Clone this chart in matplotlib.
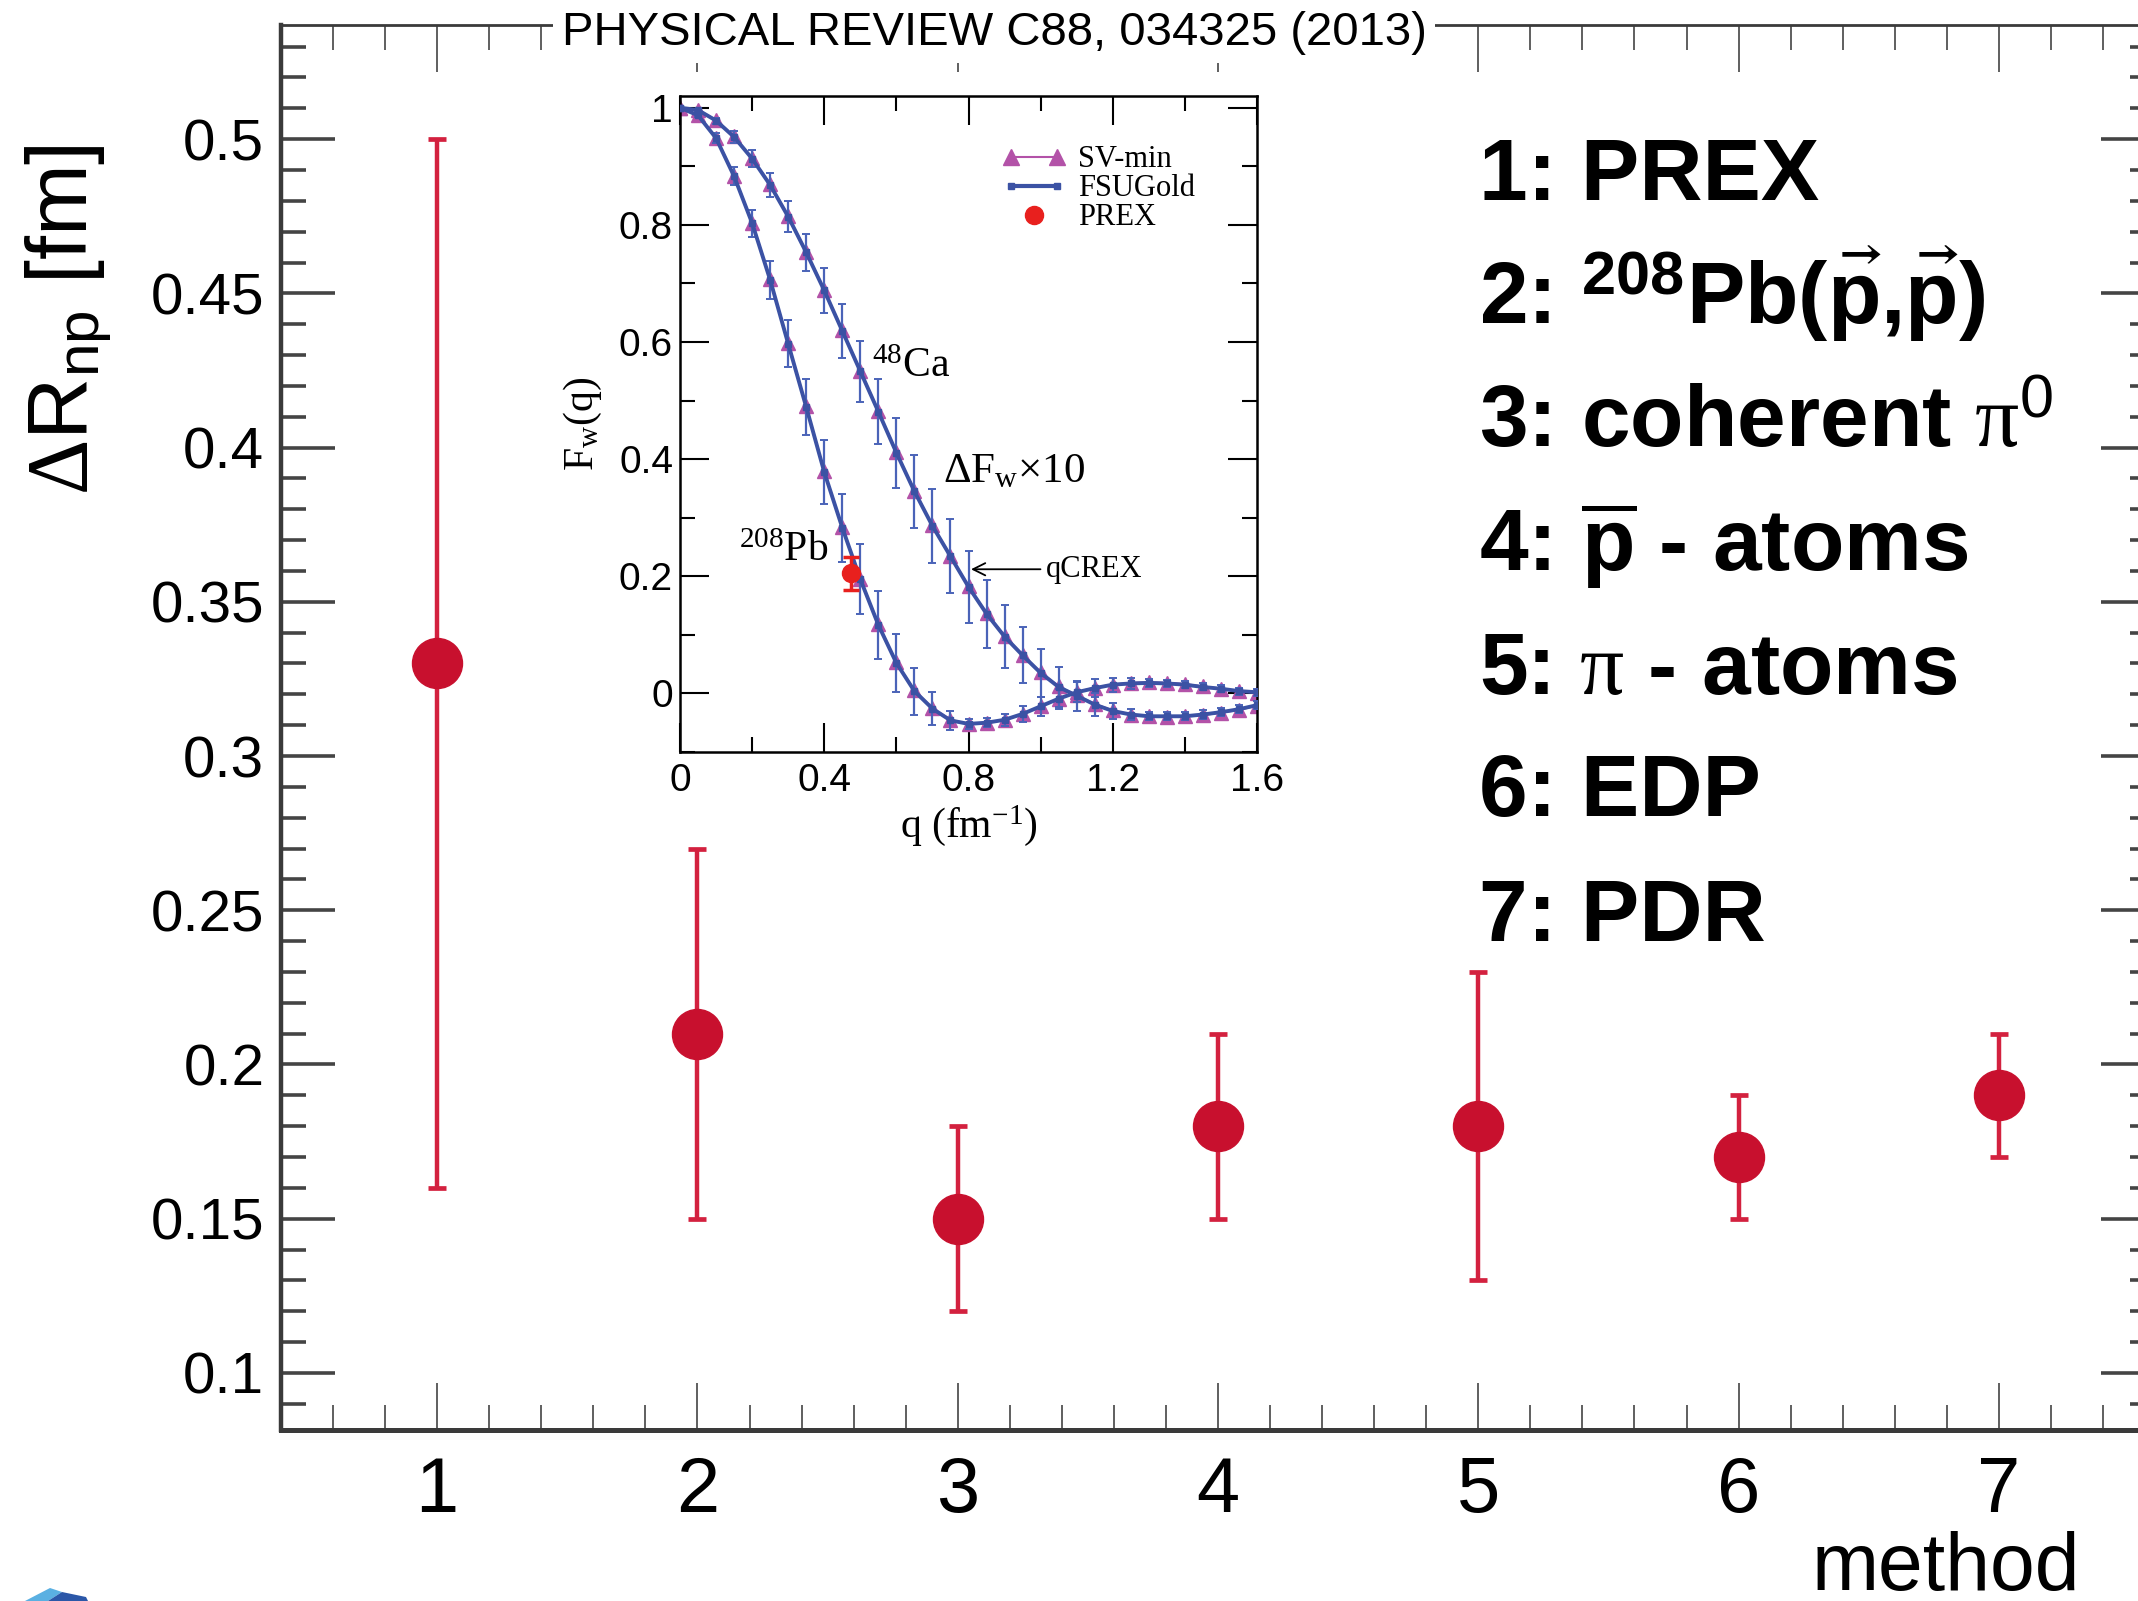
import numpy as np
import matplotlib
matplotlib.use("Agg")
import matplotlib.pyplot as plt
from matplotlib.ticker import MultipleLocator, FuncFormatter
from matplotlib.lines import Line2D
from matplotlib.legend_handler import HandlerLine2D
from matplotlib.patches import Polygon

plt.rcParams.update({
    'font.family': 'Liberation Sans',
    'mathtext.fontset': 'custom',
    'mathtext.rm': 'Liberation Serif',
    'mathtext.it': 'Liberation Serif:italic',
    'mathtext.bf': 'Liberation Sans:bold',
    'mathtext.sf': 'Liberation Sans',
    'mathtext.fallback': 'stix',
})

# neutron skin of 208Pb by method
methods = [1, 2, 3, 4, 5, 6, 7]
drnp = [0.33, 0.21, 0.15, 0.18, 0.18, 0.17, 0.19]
drnp_err = [0.17, 0.06, 0.03, 0.03, 0.05, 0.02, 0.02]
method_names = [
    "1: PREX",
    r"2: $^{\mathbf{208}}$Pb($\vec{\mathbf{p}}$,$\vec{\mathbf{p}}$)",
    r"3: coherent $\mathrm{\pi}^{\mathsf{0}}$",
    r"4: $\overline{\mathbf{p}}$ - atoms",
    r"5: $\mathrm{\pi}$ - atoms",
    "6: EDP",
    "7: PDR",
]

# weak form factors (inset)
q = [0.0, 0.05, 0.1, 0.15, 0.2, 0.25, 0.3, 0.35, 0.4, 0.45, 0.5,
     0.55, 0.6, 0.65, 0.7, 0.75, 0.8, 0.85, 0.9, 0.95, 1.0, 1.05,
     1.1, 1.15, 1.2, 1.25, 1.3, 1.35, 1.4, 1.45, 1.5, 1.55, 1.6]
ca48_fsu = [1.0, 0.996, 0.978, 0.950, 0.913, 0.868, 0.814, 0.753, 0.688, 0.619, 0.550,
            0.481, 0.411, 0.345, 0.286, 0.234, 0.182, 0.136, 0.097, 0.065, 0.035, 0.011,
            -0.004, -0.019, -0.030, -0.036, -0.039, -0.039, -0.039, -0.036, -0.032, -0.027, -0.020]
ca48_sv = [1.0, 0.996, 0.979, 0.951, 0.914, 0.869, 0.815, 0.754, 0.689, 0.620, 0.551,
           0.482, 0.412, 0.346, 0.287, 0.235, 0.183, 0.137, 0.098, 0.066, 0.036, 0.012,
           -0.003, -0.018, -0.029, -0.036, -0.039, -0.040, -0.039, -0.037, -0.033, -0.028, -0.021]
ca48_err = [0.0, 0.002, 0.005, 0.010, 0.015, 0.020, 0.026, 0.032, 0.039, 0.046, 0.052,
            0.056, 0.060, 0.062, 0.063, 0.063, 0.061, 0.058, 0.054, 0.048, 0.041, 0.034,
            0.026, 0.019, 0.013, 0.009, 0.007, 0.007, 0.007, 0.007, 0.007, 0.007, 0.007]
pb208_fsu = [1.0, 0.987, 0.948, 0.883, 0.803, 0.706, 0.597, 0.489, 0.378, 0.283, 0.195,
             0.117, 0.052, 0.004, -0.026, -0.046, -0.052, -0.050, -0.045, -0.035, -0.022, -0.009,
             0.002, 0.009, 0.015, 0.017, 0.018, 0.017, 0.015, 0.011, 0.008, 0.004, 0.002]
pb208_sv = [1.0, 0.987, 0.949, 0.884, 0.804, 0.707, 0.598, 0.490, 0.379, 0.284, 0.196,
            0.118, 0.053, 0.005, -0.025, -0.045, -0.052, -0.051, -0.045, -0.035, -0.022, -0.009,
            0.002, 0.010, 0.015, 0.018, 0.019, 0.018, 0.016, 0.012, 0.008, 0.004, 0.001]
pb208_err = [0.0, 0.003, 0.008, 0.015, 0.023, 0.032, 0.040, 0.048, 0.055, 0.058, 0.060,
             0.058, 0.050, 0.040, 0.028, 0.016, 0.008, 0.008, 0.010, 0.013, 0.016, 0.017,
             0.017, 0.015, 0.012, 0.009, 0.007, 0.006, 0.006, 0.006, 0.006, 0.006, 0.006]
prex_q = [0.475]
prex_fw = [0.205]
prex_err = [0.028]

W, H, DPI = 2138, 1601, 100


def fx(px):
    return px / W


def fy(py):
    return 1 - py / H


fmt_g = FuncFormatter(lambda v, p: '%g' % round(v, 4))

fig = plt.figure(figsize=(W / DPI, H / DPI), dpi=DPI)

# ---- main panel ----
ax = fig.add_axes([fx(281), fy(1430), (2155 - 281) / W, (1430 - 25) / H])
ax.set_xlim(0.4, 7.6)
ax.set_ylim(0.0815, 0.537)
ax.errorbar(methods, drnp, yerr=drnp_err, fmt='o', ms=36, color='#c8102e',
            ecolor='#d3213f', elinewidth=3.2, capsize=6.5, capthick=3.4, zorder=3)

ax.xaxis.set_major_locator(MultipleLocator(1))
ax.xaxis.set_minor_locator(MultipleLocator(0.2))
ax.yaxis.set_major_locator(MultipleLocator(0.05))
ax.yaxis.set_minor_locator(MultipleLocator(0.01))
ax.yaxis.set_major_formatter(fmt_g)
ax.tick_params(which='both', direction='in', top=True, right=True, colors='#444444')
ax.tick_params(axis='x', which='major', length=34, width=1.2, labelsize=56, pad=18,
               labelcolor='black')
ax.tick_params(axis='x', which='minor', length=18, width=1.2)
ax.tick_params(axis='y', which='major', length=39, width=2.6, labelsize=42, pad=12,
               labelcolor='black')
ax.tick_params(axis='y', which='minor', length=18, width=2.6)
for side, lw in [('left', 3.2), ('bottom', 3.6), ('top', 2.0), ('right', 2.0)]:
    ax.spines[side].set_linewidth(lw)
    ax.spines[side].set_color('#3a3a3a')

ax.set_xlabel('method', fontsize=58, ha='right', va='top')
ax.xaxis.set_label_coords((2080 - 281) / 1874, (1430 - 1531) / 1405)
ax.set_ylabel(r'$\Delta$R$_{\mathregular{np}}$ [fm]', fontsize=62, va='center')
ax.yaxis.set_label_coords((68 - 281) / 1874, (1430 - 320) / 1405)

fig.text(fx(994), fy(33), 'PHYSICAL REVIEW C88, 034325 (2013)', fontsize=34,
         ha='center', va='center',
         bbox=dict(facecolor='white', edgecolor='none', pad=6))

baselines = [200, 324, 447, 571, 694, 816, 941]
for name, yb in zip(method_names, baselines):
    fig.text(fx(1479), fy(yb), name, fontsize=63, fontweight='bold',
             ha='left', va='baseline')

# corner of a logo peeking in at the bottom left
fig.patches.append(Polygon([[fx(25), fy(1601)], [fx(50), fy(1588)], [fx(62), fy(1592)],
                            [fx(48), fy(1601)]], closed=True, transform=fig.transFigure,
                           facecolor='#5ab0e2', edgecolor='none'))
fig.patches.append(Polygon([[fx(48), fy(1601)], [fx(62), fy(1592)], [fx(86), fy(1597)],
                            [fx(88), fy(1601)]], closed=True, transform=fig.transFigure,
                           facecolor='#2b57a8', edgecolor='none'))

# ---- inset ----
axin = fig.add_axes([fx(680), fy(752), 577 / W, 656 / H])
axin.set_xlim(0, 1.6)
axin.set_ylim(-0.1, 1.02)

magenta = '#b352a8'
blue = '#3b52a4'
for fw in (ca48_sv, pb208_sv):
    axin.plot(q, fw, color=magenta, lw=1.5, marker='^', ms=10, mec=magenta, zorder=2)
for fw, err in ((ca48_fsu, ca48_err), (pb208_fsu, pb208_err)):
    axin.errorbar(q, fw, yerr=err, color=blue, lw=2.8, marker='s', ms=4,
                  ecolor='#4a63b8', elinewidth=1.6, capsize=3, capthick=1.4, zorder=3)
axin.errorbar(prex_q, prex_fw, yerr=prex_err, fmt='o', ms=13, color='#e8201e',
              elinewidth=2.5, capsize=6, capthick=2.5, zorder=5)

serif = 'Liberation Serif'
axin.text(0.532, 0.54, r'$^{\mathregular{48}}$Ca', fontsize=30, family=serif, va='baseline')
axin.text(0.73, 0.36, r'$\Delta$F$_{\mathregular{w}}$$\times$10', fontsize=31, family=serif,
          va='baseline')
axin.text(0.164, 0.226, r'$^{\mathregular{208}}$Pb', fontsize=30, family=serif, va='baseline')
axin.annotate('qCREX', xy=(0.807, 0.212), xytext=(1.015, 0.212), fontsize=22, family=serif,
              va='center', ha='left',
              arrowprops=dict(arrowstyle='->', color='black', lw=1.3, shrinkA=2, shrinkB=0))

axin.xaxis.set_major_locator(MultipleLocator(0.4))
axin.xaxis.set_minor_locator(MultipleLocator(0.2))
axin.yaxis.set_major_locator(MultipleLocator(0.2))
axin.yaxis.set_minor_locator(MultipleLocator(0.1))
axin.xaxis.set_major_formatter(fmt_g)
axin.yaxis.set_major_formatter(fmt_g)
axin.tick_params(which='both', direction='in', top=True, right=True, width=1.5)
axin.tick_params(which='major', length=21, labelsize=28)
axin.tick_params(which='minor', length=11)
axin.tick_params(axis='x', pad=8)
axin.tick_params(axis='y', pad=5)
for s in axin.spines.values():
    s.set_linewidth(1.8)

axin.set_xlabel(r'q (fm$^{\mathregular{-1}}$)', fontsize=30, family=serif, va='top')
axin.xaxis.set_label_coords(0.5, (752 - 803) / 656)
axin.set_ylabel(r'F$_{\mathregular{w}}$(q)', fontsize=30, family=serif, va='center')
axin.yaxis.set_label_coords((583 - 680) / 577, 0.5)

h_sv = Line2D([], [], color=magenta, lw=1.5, marker='^', ms=12)
h_fsu = Line2D([], [], color=blue, lw=3, marker='s', ms=5)
h_prex = Line2D([], [], color='#e8201e', ls='none', marker='o', ms=13)
axin.legend([h_sv, h_fsu, h_prex], ['SV-min', 'FSUGold', 'PREX'], numpoints=2,
            handler_map={h_prex: HandlerLine2D(numpoints=1)},
            prop={'family': serif, 'size': 22}, frameon=False,
            loc='upper left', bbox_to_anchor=(0.558, 0.925), borderpad=0,
            borderaxespad=0, handlelength=2.1, handletextpad=0.4, labelspacing=0.0)

fig.savefig('out.png', dpi=DPI)
